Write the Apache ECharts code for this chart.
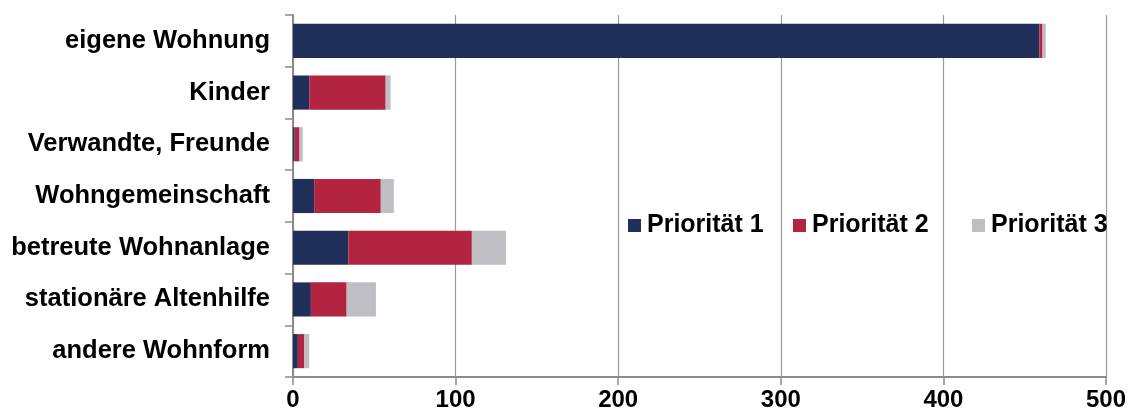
<!DOCTYPE html>
<html>
<head>
<meta charset="utf-8">
<script src="https://cdn.jsdelivr.net/npm/echarts@6/dist/echarts.min.js"></script>
<style>
html,body{margin:0;padding:0;background:#fff;}
#chart{width:1130px;height:417px;}
</style>
</head>
<body>
<div id="chart"></div>
<script>
const categories = ["eigene Wohnung", "Kinder", "Verwandte, Freunde", "Wohngemeinschaft", "betreute Wohnanlage", "stationäre Altenhilfe", "andere Wohnform"];
const prio1 = [459, 10, 1, 13, 34, 11, 3];
const prio2 = [2, 47, 3, 41, 76, 22, 4];
const prio3 = [2, 3, 2, 8, 21, 18, 3];
const seriesNames = ["Priorität 1", "Priorität 2", "Priorität 3"];
const colors = ["#20305A", "#B2243F", "#BFBFC3"];
const xTicks = [0, 100, 200, 300, 400, 500];

const FONT = "'Liberation Sans', Arial, sans-serif";
const chart = echarts.init(document.getElementById('chart'));
const values = [prio1, prio2, prio3];

const legendPos = [628, 793, 972];
const legends = seriesNames.map((n, i) => ({
  data: [n],
  left: legendPos[i],
  top: 213,
  itemWidth: 13,
  itemHeight: 13,
  icon: 'rect',
  itemGap: 0,
  padding: 0,
  backgroundColor: 'transparent',
  textStyle: {fontFamily: FONT, fontWeight: 'bold', fontSize: 25, color: '#000', padding: [0,0,0,1]}
}));

chart.setOption({
  animation: false,
  color: colors,
  legend: legends,
  grid: {left: 293, right: 24, top: 15, bottom: 40, containLabel: false},
  xAxis: {
    type: 'value',
    min: xTicks[0],
    max: xTicks[xTicks.length - 1],
    interval: 100,
    axisLine: {show: true, lineStyle: {color: '#8c8c8c', width: 2}},
    axisTick: {show: true, length: 8, lineStyle: {color: '#8c8c8c', width: 1.5}},
    splitLine: {show: true, lineStyle: {color: '#9a9a9a', width: 1.2}},
    axisLabel: {fontFamily: FONT, fontWeight: 'bold', fontSize: 24, color: '#000', margin: 11}
  },
  yAxis: {
    type: 'category',
    data: categories,
    inverse: true,
    axisLine: {show: true, lineStyle: {color: '#8c8c8c', width: 2}},
    axisTick: {show: true, length: 8, lineStyle: {color: '#8c8c8c', width: 1.5}},
    axisLabel: {fontFamily: FONT, fontWeight: 'bold', fontSize: 25.5, color: '#000', margin: 23}
  },
  series: seriesNames.map((n, i) => ({
    name: n,
    type: 'bar',
    stack: 'total',
    barCategoryGap: '34%',
    data: values[i],
    itemStyle: {color: colors[i]}
  }))
});
</script>
</body>
</html>
